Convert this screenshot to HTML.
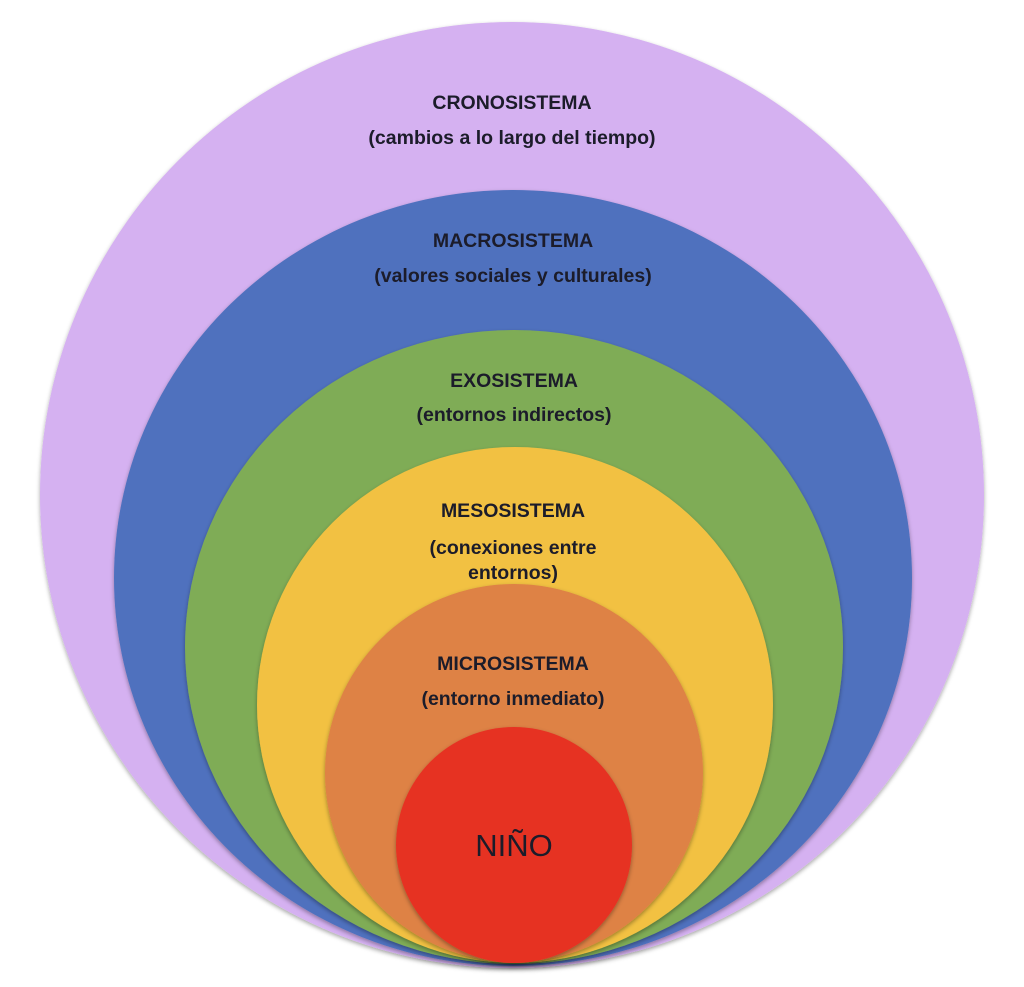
<!DOCTYPE html>
<html><head><meta charset="utf-8"><style>
html,body{margin:0;padding:0;background:#fff;}
body{width:1024px;height:987px;position:relative;overflow:hidden;font-family:"Liberation Sans",sans-serif;}
svg{position:absolute;left:0;top:0;}
</style></head><body>
<svg width="1024" height="987" viewBox="0 0 1024 987">
<defs><filter id="s" x="-5%" y="-5%" width="110%" height="110%"><feDropShadow dx="0" dy="2" stdDeviation="2" flood-color="#000" flood-opacity="0.35"/></filter></defs>
<ellipse cx="512" cy="495" rx="472" ry="473" fill="#d5b1f1" filter="url(#s)"/>
<ellipse cx="513" cy="578" rx="399" ry="388" fill="#4f71be" filter="url(#s)"/>
<ellipse cx="514" cy="647" rx="329" ry="317" fill="#7fac56" filter="url(#s)"/>
<ellipse cx="515" cy="705" rx="258" ry="258" fill="#f2c142" filter="url(#s)"/>
<ellipse cx="514" cy="773" rx="189" ry="189" fill="#de8244" filter="url(#s)"/>
<ellipse cx="514" cy="845" rx="118" ry="118" fill="#e63323" filter="url(#s)"/>
<g font-family="Liberation Sans, sans-serif" font-weight="bold" font-size="19.5" fill="#1c1c2a" text-anchor="middle">
<text x="512" y="109">CRONOSISTEMA</text>
<text x="512" y="144">(cambios a lo largo del tiempo)</text>
<text x="513" y="247">MACROSISTEMA</text>
<text x="513" y="282">(valores sociales y culturales)</text>
<text x="514" y="387">EXOSISTEMA</text>
<text x="514" y="421">(entornos indirectos)</text>
<text x="513" y="517">MESOSISTEMA</text>
<text x="513" y="554">(conexiones entre</text>
<text x="513" y="579">entornos)</text>
<text x="513" y="670">MICROSISTEMA</text>
<text x="513" y="705">(entorno inmediato)</text>
</g>
<text x="514" y="856" font-family="Liberation Sans, sans-serif" font-size="31" fill="#1c1c2a" text-anchor="middle">NIÑO</text>
</svg>
</body></html>
